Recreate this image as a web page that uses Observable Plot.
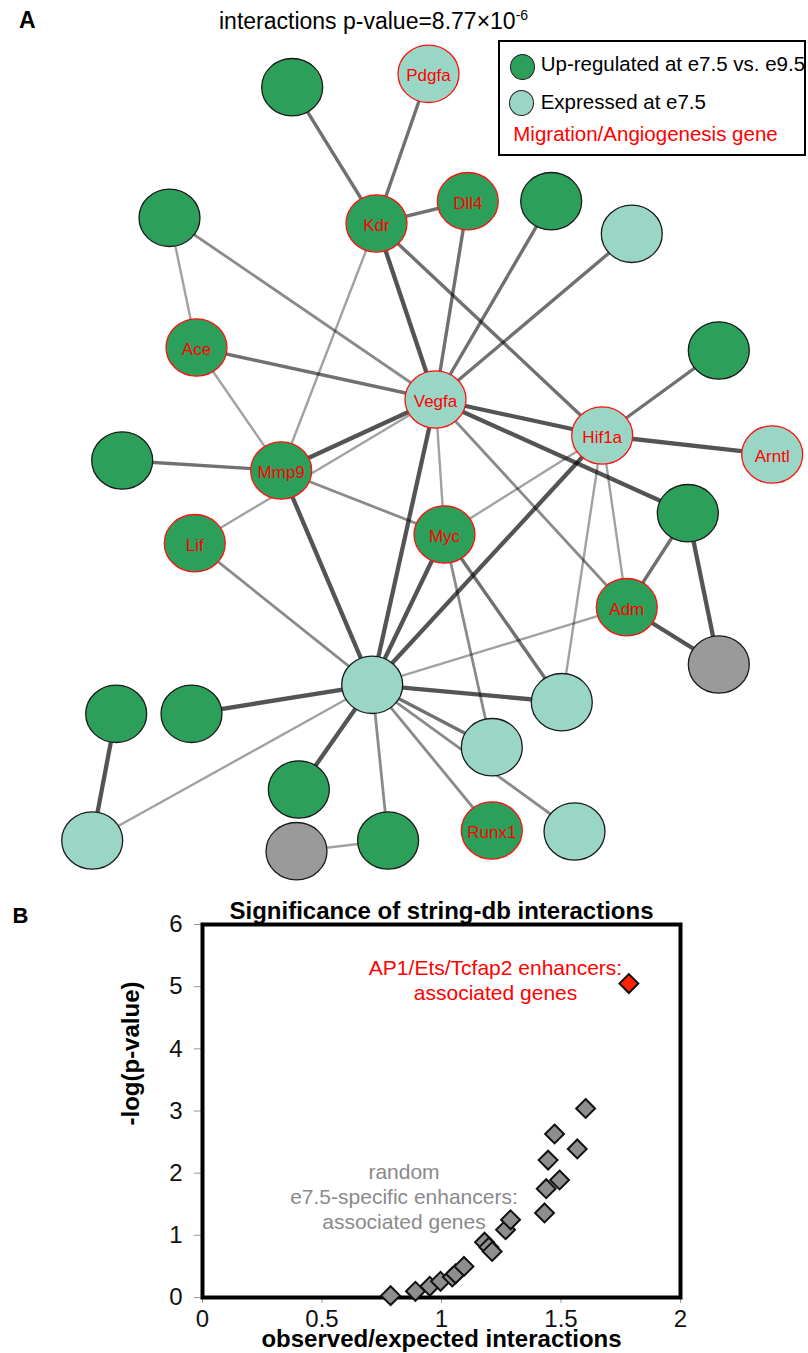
<!DOCTYPE html>
<html>
<head>
<meta charset="utf-8">
<script src="https://cdn.jsdelivr.net/npm/d3@7"></script>
<script src="https://cdn.jsdelivr.net/npm/@observablehq/plot@0.6"></script>
<style>
  html, body { margin: 0; padding: 0; background: #fff; }
  body { font-family: "Liberation Sans", Arial, sans-serif; }
  #page { position: relative; width: 808px; height: 1353px; overflow: hidden; background: #fff; }
  #panelA, #panelB { position: absolute; left: 0; }
  #panelA { top: 0; }
  #panelB { top: 880px; }
  #panelA svg, #panelB svg { display: block; }
  .abs { position: absolute; white-space: nowrap; line-height: 1; }
  #legend { position: absolute; left: 498px; top: 40px; width: 304px; height: 112px; border: 2px solid #000; background: #fff; }
  .lg-dot { position: absolute; width: 25px; height: 26px; border-radius: 50%; border: 1px solid #222; box-sizing: border-box; }
  .lg-txt { position: absolute; white-space: nowrap; line-height: 1; font-size: 20.5px; color: #000; }
</style>
</head>
<body>
<div id="page">
  <div id="panelA"></div>
  <div id="panelB"></div>
  <div class="abs" style="left:19px;top:8.8px;font-size:23px;font-weight:bold;">A</div>
  <div class="abs" style="left:219px;top:9.5px;font-size:23px;">interactions p-value=8.77×10<span style="font-size:14px;position:relative;top:-9px;">-6</span></div>
  <div id="legend">
    <div class="lg-dot" style="left:9.5px;top:11.7px;background:#2ca05a;"></div>
    <div class="lg-txt" style="left:40.7px;top:12.3px;">Up-regulated at e7.5 vs. e9.5</div>
    <div class="lg-dot" style="left:8.8px;top:47.7px;background:#9ad6c6;"></div>
    <div class="lg-txt" style="left:40.7px;top:49.6px;">Expressed at e7.5</div>
    <div class="lg-txt" style="left:13.3px;top:82.3px;color:#ff0000;">Migration/Angiogenesis gene</div>
  </div>
  <div class="abs" style="left:12.5px;top:905px;font-size:22px;font-weight:bold;">B</div>
</div>
<script>
// ---------------- Panel A data: network ----------------
const nodeIds    = ["N1","Pdgfa","Gtl","Kdr","Dll4","Gtop","Ltr","Ace","Vegfa","Gr","Hif1a","Arntl","Gl","Mmp9","Lif","Myc","Gr2","Adm","GrayR","Hub","Lr1","Lr2","Gl1","Gl2","Gb1","Lbl","GrayB","Gb2","Runx1","Lbr"];
const nodeLabels = ["","Pdgfa","","Kdr","Dll4","","","Ace","Vegfa","","Hif1a","Arntl","","Mmp9","Lif","Myc","","Adm","","","","","","","","","","","Runx1",""];
const nodeX      = [291.7,428,169,376,467.3,550.7,631.3,196,435,718.3,601.7,771.7,121.7,280.7,194.3,444,687.3,626.3,718.3,371.7,561.3,491.3,115.7,191,298.3,91.7,296,387.6,491.3,574];
const nodeY      = [86.7,73.3,217.3,223,200.7,200.7,233.3,347,399,350,435,454,460,470,542.7,534,512.7,606.7,664,684.3,701.7,746.7,713.3,713.3,789,840,850.7,840,830,831];
const nodeKind   = ["up","expr","up","up","up","up","expr","up","expr","up","expr","expr","up","up","up","up","up","up","none","expr","expr","expr","up","up","up","expr","none","up","up","expr"];
const nodeMigration = [false,true,false,true,true,false,false,true,true,false,true,true,false,true,true,true,false,true,false,false,false,false,false,false,false,false,false,false,true,false];

const edgeFrom = ["N1","Pdgfa","Kdr","Kdr","Kdr","Kdr","Dll4","Gtop","Ltr","Gtl","Gtl","Ace","Ace","Gr","Vegfa","Hif1a","Vegfa","Lif","Mmp9","Mmp9","Mmp9","Lif","Vegfa","Vegfa","Myc","Vegfa","Vegfa","Hif1a","Hif1a","Hif1a","Hif1a","Gr2","Gr2","Adm","Adm","Myc","Myc","Hub","Hub","Hub","Hub","Hub","Hub","Hub","Hub","Gl1","GrayB"];
const edgeTo   = ["Kdr","Kdr","Dll4","Vegfa","Mmp9","Hif1a","Vegfa","Vegfa","Vegfa","Ace","Vegfa","Vegfa","Mmp9","Hif1a","Hif1a","Arntl","Mmp9","Vegfa","Gl","Myc","Hub","Hub","Hub","Myc","Lr2","Adm","Gr2","Myc","Hub","Adm","Lr1","Adm","GrayR","GrayR","Hub","Hub","Lr1","Lr1","Lr2","Gl2","Lbl","Gb1","Gb2","Runx1","Lbr","Lbl","Gb2"];
const edgeStrength = [3,3,3,4,1,3,3,3,3,1,2,3,1,3,4,4,4,1,3,2,4,2,4,1,2,2,4,1,4,1,1,3,4,4,1,4,3,4,3,4,1,4,2,2,2,4,1];

// ---------------- Panel B data: scatter ----------------
const randomRatio   = [0.787,0.891,0.951,0.996,1.045,1.059,1.094,1.180,1.198,1.212,1.268,1.289,1.431,1.438,1.494,1.446,1.473,1.568,1.603];
const randomNegLogP = [0.03,0.10,0.18,0.26,0.33,0.38,0.50,0.89,0.81,0.74,1.09,1.25,1.36,1.75,1.89,2.21,2.63,2.39,3.04];
const ap1Ratio   = [1.784];
const ap1NegLogP = [5.05];
const xTicks = [0, 0.5, 1, 1.5, 2];
const yTicks = [0, 1, 2, 3, 4, 5, 6];
const annotationText = ["AP1/Ets/Tcfap2 enhancers:\nassociated genes", "random\ne7.5-specific enhancers:\nassociated genes"];
const annotationX = [1.226, 0.843];
const annotationY = [5.114, 1.637];

// ---------------- build tables ----------------
const kindFill = {up: "#2ca05a", expr: "#9ad6c6", none: "#9a9a9a"};
const edgeColor = {1: "rgba(0,0,0,0.37)", 2: "rgba(0,0,0,0.46)", 3: "rgba(0,0,0,0.56)", 4: "rgba(0,0,0,0.67)"};
const edgeWidth = {1: 2.4, 2: 2.8, 3: 3.4, 4: 4.3};

const nodes = nodeIds.map((id, i) => ({id, label: nodeLabels[i], x: nodeX[i], y: nodeY[i], kind: nodeKind[i], mig: nodeMigration[i]}));
const byId = new Map(nodes.map(d => [d.id, d]));
const edges = edgeFrom.map((f, i) => ({a: byId.get(f), b: byId.get(edgeTo[i]), s: edgeStrength[i]}));

const ellipse = {
  draw(context, size) {
    const r = Math.sqrt(size / Math.PI);
    const rx = r * 1.03, ry = r * 0.97, k = 0.5523;
    context.moveTo(rx, 0);
    context.bezierCurveTo(rx, ry * k, rx * k, ry, 0, ry);
    context.bezierCurveTo(-rx * k, ry, -rx, ry * k, -rx, 0);
    context.bezierCurveTo(-rx, -ry * k, -rx * k, -ry, 0, -ry);
    context.bezierCurveTo(rx * k, -ry, rx, -ry * k, rx, 0);
    context.closePath();
  }
};

const font = "Liberation Sans, Arial, sans-serif";

const plotA = Plot.plot({
  width: 808, height: 880, margin: 0,
  style: {fontFamily: font, background: "transparent", overflow: "visible"},
  x: {domain: [0, 808], range: [0, 808], axis: null},
  y: {domain: [0, 880], range: [0, 880], axis: null},
  color: {type: "identity"},
  marks: [
    Plot.link(edges, {
      x1: d => d.a.x, y1: d => d.a.y, x2: d => d.b.x, y2: d => d.b.y,
      stroke: d => edgeColor[d.s], strokeWidth: d => edgeWidth[d.s]
    }),
    Plot.dot(nodes, {
      x: "x", y: "y", r: 29.6, symbol: ellipse,
      fill: d => kindFill[d.kind],
      stroke: d => d.mig ? "#ff1010" : "#1a1a1a",
      strokeWidth: 1.3
    }),
    Plot.text(nodes.filter(d => d.label), {
      x: "x", y: "y", text: "label", fill: "#ff0000", fontSize: 17, dy: 2
    })
  ]
});
document.getElementById("panelA").appendChild(plotA);

const randomPts = randomRatio.map((x, i) => ({x, y: randomNegLogP[i]}));
const ap1Pts = ap1Ratio.map((x, i) => ({x, y: ap1NegLogP[i]}));
const annotations = annotationText.map((t, i) => ({t, x: annotationX[i], y: annotationY[i], c: i === 0 ? "#ff0000" : "#8a8a8a"}));

const plotB = Plot.plot({
  width: 808, height: 473,
  marginLeft: 202, marginRight: 128, marginTop: 44, marginBottom: 56,
  style: {fontFamily: font, background: "transparent", overflow: "visible"},
  x: {domain: [0, 2]},
  y: {domain: [0, 6]},
  color: {type: "identity"},
  marks: [
    Plot.axisX({ticks: xTicks, tickFormat: d => String(d), tickSize: 6, tickPadding: 6, fontSize: 24, stroke: "#9a9a9a", fill: "#111", label: null}),
    Plot.axisY({ticks: yTicks, tickFormat: d => String(d), tickSize: 8, tickPadding: 12, fontSize: 24, stroke: "#9a9a9a", fill: "#111", label: null}),
    Plot.frame({stroke: "#000", strokeWidth: 4}),
    Plot.text(annotations, {x: "x", y: "y", text: "t", fill: "c", fontSize: 21, lineHeight: 1.2, lineAnchor: "middle"}),
    Plot.dot(randomPts, {x: "x", y: "y", symbol: "diamond2", r: 8.5, fill: "#8e8e8e", stroke: "#111", strokeWidth: 2}),
    Plot.dot(ap1Pts, {x: "x", y: "y", symbol: "diamond2", r: 8.5, fill: "#ff2200", stroke: "#111", strokeWidth: 2}),
    Plot.text(["Significance of string-db interactions"], {frameAnchor: "top", lineAnchor: "middle", dy: -13, fontSize: 24, fontWeight: "bold", fill: "#000"}),
    Plot.text(["observed/expected interactions"], {frameAnchor: "bottom", lineAnchor: "middle", dy: 42, fontSize: 24, fontWeight: "bold", fill: "#000"}),
    Plot.text(["-log(p-value)"], {frameAnchor: "left", lineAnchor: "middle", dx: -71, dy: 14.5, rotate: -90, fontSize: 24, fontWeight: "bold", fill: "#000"})
  ]
});
document.getElementById("panelB").appendChild(plotB);
</script>
</body>
</html>
